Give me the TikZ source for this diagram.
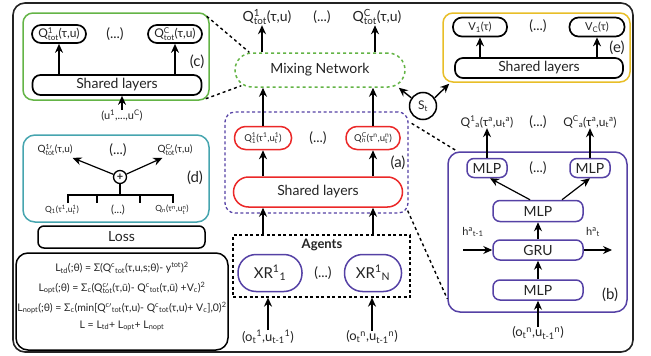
\documentclass[tikz,border=0pt]{standalone}
\usepackage{amsmath}
\usepackage{fontspec}
\setmainfont{Lato}
\setsansfont{Lato}
\usetikzlibrary{arrows.meta,calc}
\definecolor{txt}{RGB}{35,35,35}
\definecolor{cgreen}{RGB}{100,180,70}
\definecolor{cyel}{RGB}{232,190,40}
\definecolor{cteal}{RGB}{70,165,175}
\definecolor{cred}{RGB}{235,40,40}
\definecolor{cpur}{RGB}{85,65,165}
\newcommand\spx[1]{$^{\text{#1}}$}
\newcommand\sbx[1]{$_{\text{#1}}$}
\newcommand\sps[2]{$^{\text{#1}}_{\text{#2}}$}
\newcommand\myfs[1]{\fontsize{#1}{#1}\selectfont}
\begin{document}
\begin{tikzpicture}[x=1pt,y=-1pt,
  every node/.style={text=txt, inner sep=0pt, font=\myfs{14}},
  bk/.style={draw=black, line width=1.7pt},
  pbox/.style={draw=cpur, line width=1.5pt, rounded corners=7pt, font=\myfs{14}},
  rbox/.style={draw=cred, line width=1.5pt},
  sarr/.style={draw=black, line width=1.7pt, -{Stealth[length=9pt,width=8pt]}},
  sarrt/.style={draw=black, line width=1.2pt, -{Stealth[length=9pt,width=8pt]}},
  sdash/.style={draw=black, line width=1.4pt, dash pattern=on 3pt off 3pt},
  plab/.style={font=\myfs{15}},
  eqf/.style={font=\myfs{10.5}},
]
\useasboundingbox (0,0) rectangle (651,356);
% outer frame
\node[draw=txt, line width=1.6pt, rounded corners=12pt, minimum width=620, minimum height=349] (frame) at (323,177.5) {};

% ---- (c)
\node[draw=cgreen, line width=1.5pt, rounded corners=10pt, minimum width=186, minimum height=87] (cbox) at (116,56.5) {};
\node[bk, minimum width=54, minimum height=18, rounded corners=9pt, font=\myfs{12}] (q1c) at (59,34) {Q\sps{1}{tot}(τ,u)};
\node[bk, minimum width=54, minimum height=18, rounded corners=9pt, font=\myfs{12}] (qcc) at (175,34) {Q\sps{C}{tot}(τ,u)};
\node (dc) at (115,34) {(...)};
\node[bk, minimum width=169, minimum height=20, rounded corners=8pt] (slc) at (117,85) {Shared layers};
\node[plab] (lc) at (197,62) {(c)};
\node[font=\myfs{11}] (uin) at (122,116) {(u\spx{1},...,u\spx{C})};
\draw[sarr] (slc.north -| q1c) -- (q1c.south);
\draw[sarr] (slc.north -| qcc) -- (qcc.south);
\draw[sarr] (uin.north) -- (uin.north |- slc.south);

% ---- mixing network
\node[draw=cgreen, line width=1.5pt, dash pattern=on 3pt off 3pt, rounded corners=17pt, minimum width=170, minimum height=34] (mix) at (320,70) {Mixing Network};
\node (qt1) at (267,17) {Q\sps{1}{tot}(τ,u)};
\node (dt) at (322,17) {(...)};
\node (qtc) at (377,17) {Q\sps{C}{tot}(τ,u)};
\draw[sarr] ($(qt1.south |- mix.north)+(-5,0)$) -- ($(qt1.south)+(-5,0)$);
\draw[sarr] ($(qtc.south |- mix.north)+(-2,0)$) -- ($(qtc.south)+(-2,0)$);
\draw[sdash] ($(cbox.north east)+(-3,4)$) -- ($(mix.north west)+(15,0)$);
\draw[sdash] ($(cbox.south east)+(-4,-2)$) -- ($(mix.south west)+(7,-2)$);

% ---- S_t
\node[circle, draw=black, line width=1.5pt, minimum size=27, font=\myfs{12}] (st) at (423,106) {S\sbx{t}};

% ---- (e)
\node[draw=cyel, line width=1.5pt, rounded corners=10pt, minimum width=187, minimum height=69] (ebox) at (536.5,47.5) {};
\node[bk, minimum width=54, minimum height=19, rounded corners=9pt, font=\myfs{11}] (v1) at (480,27) {V\sbx{1}(τ)};
\node[bk, minimum width=55, minimum height=19, rounded corners=9pt, font=\myfs{11}] (vc) at (597,27) {V\sbx{C}(τ)};
\node (de) at (538,26) {(...)};
\node[bk, minimum width=168, minimum height=20, rounded corners=8pt] (sle) at (539,68) {Shared layers};
\node[plab] (le) at (617,48) {(e)};
\draw[sarr] (sle.north -| v1) -- (v1.south);
\draw[sarr] (sle.north -| vc) -- (vc.south);
\draw[sarr, line width=1.4pt] (st.145) -- ($(mix.south east)+(-7,0)$);
\draw[sarr, line width=1.4pt] (st.35) -- ($(ebox.south west)+(7,1)$);

% ---- (d)
\node[draw=cteal, line width=1.5pt, rounded corners=12pt, minimum width=186, minimum height=87] (dbox) at (116,178.5) {};
\node[font=\myfs{10}] (qp1) at (55,150) {Q$^{\text{1}\prime}_{\text{tot}}$(τ,u)};
\node (dd1) at (118,150) {(...)};
\node[font=\myfs{10}] (qpc) at (175,150) {Q$^{\text{C}\prime}_{\text{tot}}$(τ,u)};
\node[circle, draw=black, line width=1.3pt, minimum size=13, font=\myfs{11}\bfseries] (plus) at (120,177) {+};
\draw[sarrt] (plus) -- ($(qp1.south east)+(0,2)$);
\draw[sarrt] (plus) -- ($(qpc.south west)+(5,2)$);
\coordinate (br) at (120,195);
\draw[line width=1.3pt] (plus.south) -- (br);
\draw[line width=1.3pt] (68,203) -- (68,195) -- (173,195) -- (173,203);
\draw[line width=1.3pt] (97,195) -- (97,203);
\draw[line width=1.3pt] (140,195) -- (140,203);
\node[font=\myfs{8.5}] (q1d) at (62,210) {Q\sbx{1}(τ\spx{1},u\sps{1}{t})};
\node[font=\myfs{11}] (dd2) at (118,210) {(...)};
\node[font=\myfs{8.5}] (qnd) at (172,210) {Q\sbx{n}(τ\spx{n},u\sps{n}{t})};
\node[plab] (ld) at (195,178) {(d)};

% ---- loss
\node[draw=black, line width=1.5pt, rounded corners=6pt, minimum width=167, minimum height=22] (loss) at (121.5,237) {Loss};
\node[draw=black, line width=1.5pt, rounded corners=12pt, minimum width=212, minimum height=97] (eqb) at (122,301.5) {};
\node[eqf] (e1) at (122,268) {L\sbx{td}(;θ) = Σ(Q\spx{c}\sbx{tot}(τ,u,s;θ)- y\spx{tot})\spx{2}};
\node[eqf] (e2) at (122,288) {L\sbx{opt}(;θ) = Σ\sbx{c}(Q$^{\text{c}\prime}_{\text{tot}}$(τ,ū)- Q\spx{c}\sbx{tot}(τ,ū) +V\sbx{c})\spx{2}};
\node[eqf] (e3) at (122,308) {L\sbx{nopt}(;θ) = Σ\sbx{c}(min[Q$^{\text{c}\prime}$\sbx{tot}(τ,u)- Q\spx{c}\sbx{tot}(τ,u)+ V\sbx{c}],0)\spx{2}};
\node[eqf] (e4) at (122,326) {L = L\sbx{td}+ L\sbx{opt}+ L\sbx{nopt}};

% ---- (a)
\node[draw=cpur, line width=1.3pt, dash pattern=on 3pt off 2.5pt, rounded corners=10pt, minimum width=183, minimum height=101] (abox) at (316.5,162.5) {};
\node[rbox, rounded corners=11pt, minimum width=57, minimum height=23, font=\myfs{9.5}] (q11) at (263,138) {Q\sps{1}{1}(τ\spx{1},u\sps{1}{t})};
\node[rbox, rounded corners=11pt, minimum width=54, minimum height=23, font=\myfs{9.5}] (qcn) at (373,138) {Q\sps{C}{n}(τ\spx{n},u\sps{n}{t})};
\node (da) at (318,138) {(...)};
\node[rbox, rounded corners=15pt, minimum width=169, minimum height=30] (sla) at (318,192) {Shared layers};
\node[plab] (la) at (398,163) {(a)};
\draw[sarr] (sla.north -| q11) -- (q11.south);
\draw[sarr] (sla.north -| qcn) -- (qcn.south);
\draw[sarr] (q11.north) -- (q11.north |- mix.south);
\draw[sarr] (qcn.north) -- (qcn.north |- mix.south);

% ---- agents
\node[draw=black, line width=1.3pt, dash pattern=on 3pt off 2.5pt, minimum width=177, minimum height=62] (agents) at (321.5,266) {};
\node[font=\myfs{13}\bfseries] (agl) at (322,245) {Agents};
\node[draw=cpur, line width=1.5pt, rounded corners=18pt, minimum width=64, minimum height=37, font=\myfs{15}] (xr1) at (270,273) {XR\spx{1}\sbx{1}};
\node[draw=cpur, line width=1.5pt, rounded corners=18pt, minimum width=57, minimum height=37, font=\myfs{15}] (xrn) at (373,273) {XR\spx{1}\sbx{N}};
\node (dag) at (323,273) {(...)};
\draw[sarr] (agents.north -| q11) -- (sla.south -| q11);
\draw[sarr] (agents.north -| qcn) -- (sla.south -| qcn);
\node[font=\myfs{13}] (o1) at (268,337) {(o\sbx{t}\spx{1},u\sbx{t-1}\spx{1})};
\node[font=\myfs{13}] (on) at (372,337) {(o\sbx{t}\spx{n},u\sbx{t-1}\spx{n})};
\draw[sarr] (o1.north) -- (o1.north |- agents.south);
\draw[sarr] (on.north) -- (on.north |- agents.south);

% ---- (b)
\node[draw=cpur, line width=1.5pt, rounded corners=12pt, minimum width=179, minimum height=160] (bbox) at (537.5,232) {};
\node[font=\myfs{12}] (qa1) at (487,122) {Q\spx{1}\sbx{a}(τ\spx{a},u\sbx{t}\spx{a})};
\node (db1) at (538,122) {(...)};
\node[font=\myfs{12}] (qac) at (590,122) {Q\spx{C}\sbx{a}(τ\spx{a},u\sbx{t}\spx{a})};
\node[pbox, minimum width=40, minimum height=19] (mlp1) at (487,168) {MLP};
\node[pbox, minimum width=40, minimum height=19] (mlpc) at (590,168) {MLP};
\node (db2) at (538,168) {(...)};
\node[pbox, minimum width=90, minimum height=21] (mlpm) at (538,211) {MLP};
\node[pbox, minimum width=90, minimum height=20] (gru) at (538,250) {GRU};
\node[pbox, minimum width=90, minimum height=20] (mlpb) at (538,290) {MLP};
\node[plab] (lb) at (610,295) {(b)};
\node[font=\myfs{11}] (hin) at (473,232) {h\spx{a}\sbx{t-1}};
\node[font=\myfs{11}] (hout) at (593,232) {h\spx{a}\sbx{t}};
\coordinate (hs) at (463,250);
\coordinate (he) at (612,250);
\draw[sarrt] (hs) -- (gru.west);
\draw[sarrt] (gru.east) -- (he);
\draw[sarrt] (mlpb.north) -- (gru.south);
\draw[sarrt] (gru.north) -- (mlpm.south);
\draw[sarrt] ($(mlpm.north)+(-8,0)$) -- ($(mlp1.south)+(3,0)$);
\draw[sarrt] ($(mlpm.north)+(24,0)$) -- (mlpc.south);
\draw[sarrt] (mlp1.north) -- (mlp1.north |- qa1.south);
\draw[sarrt] (mlpc.north) -- (mlpc.north |- qac.south);
\node[font=\myfs{13}] (ob) at (538,333) {(o\sbx{t}\spx{n},u\sbx{t-1}\spx{n})};
\draw[sarrt] (ob.north) -- (mlpb.south);

% dashed zoom lines
\draw[sdash] ($(abox.north east)+(3,12)$) -- ($(bbox.north west)+(10,0)$);
\draw[sdash] ($(abox.south east)+(-1,-3)$) -- ($(bbox.south west)+(0,-14)$);
\end{tikzpicture}
\end{document}
